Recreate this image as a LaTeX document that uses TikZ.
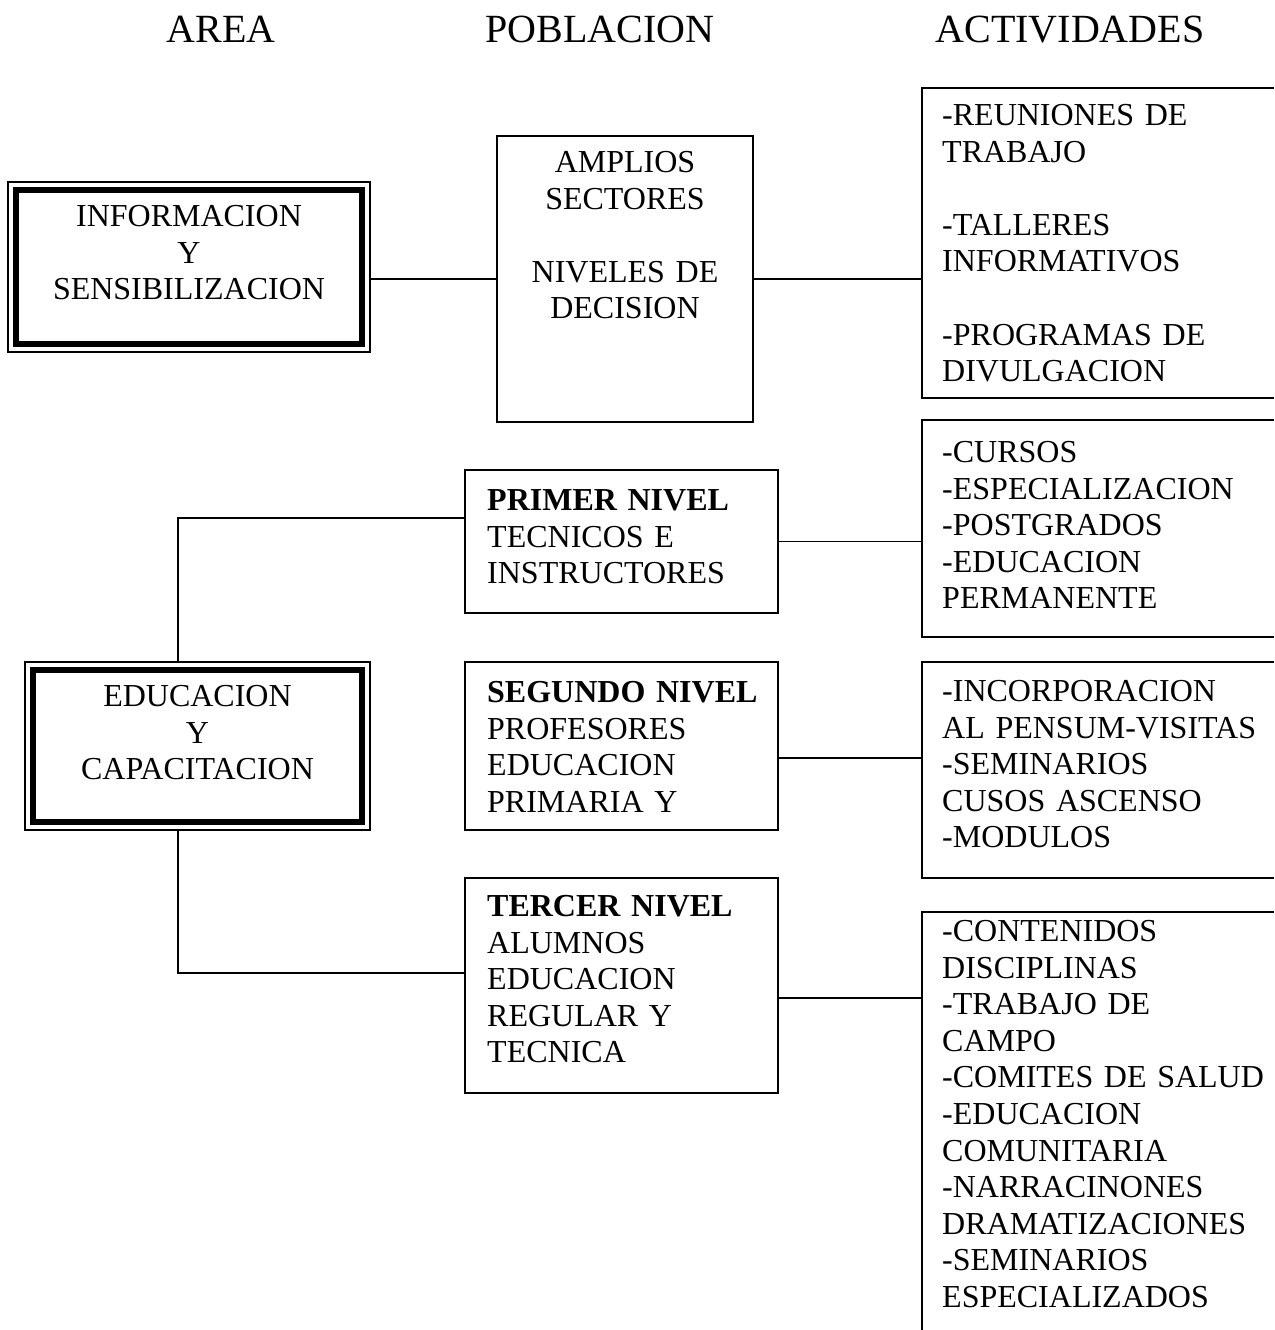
\documentclass[tikz,border=0pt]{standalone}
\usepackage{fontspec}
\setmainfont{Liberation Serif}
\begin{document}
\begin{tikzpicture}[x=1pt,y=-1pt,
  plainbox/.style={draw, line width=1.8pt, inner sep=0pt},
  areabox/.style={draw, line width=1.6pt, inner sep=0pt},
  actframe/.style={draw=none, inner sep=0pt},
  conn/.style={line width=1.6pt},
  head/.style={anchor=base, inner sep=0pt, font=\fontsize{40}{48}\selectfont},
  txtl/.style={anchor=base west, inner sep=0pt, text width=400pt, align=left, font=\fontsize{32}{36.6}\selectfont},
  txtc/.style={anchor=base, inner sep=0pt, text width=400pt, align=center, font=\fontsize{32}{36.6}\selectfont}]
\useasboundingbox (0,0) rectangle (1274,1330);
\fill[white] (0,0) rectangle (1274,1330);

% headers
\node[head] (hArea) at (221,43) {AREA};
\node[head] (hPob) at (600,43) {POBLACION};
\node[head] (hAct) at (1070,43) {ACTIVIDADES};

% area boxes (double border)
\node[areabox, minimum width=362, minimum height=170] (area1) at (189,267) {};
\draw[line width=6pt] ([shift={(9,9)}]area1.north west) rectangle ([shift={(-9,-9)}]area1.south east);
\node[txtc] (t-area1) at (189,226.5) {INFORMACION\\Y\\SENSIBILIZACION};

\node[areabox, minimum width=345, minimum height=168] (area2) at (197.5,746) {};
\draw[line width=6pt] ([shift={(9,9)}]area2.north west) rectangle ([shift={(-9,-9)}]area2.south east);
\node[txtc] (t-area2) at (197.5,706.5) {EDUCACION\\Y\\CAPACITACION};

% poblacion boxes
\node[plainbox, minimum width=256, minimum height=286] (pob1) at (625,279) {};
\node[txtc] (t-pob1) at (625,172.5) {AMPLIOS\\SECTORES\\[36.6pt]NIVELES DE\\DECISION};

\node[plainbox, minimum width=313, minimum height=143] (niv1) at (621.5,541.5) {};
\node[txtl] (t-niv1) at (487,510.5) {\textbf{PRIMER NIVEL}\\TECNICOS E\\INSTRUCTORES};

\node[plainbox, minimum width=313, minimum height=168] (niv2) at (621.5,746) {};
\node[txtl] (t-niv2) at (487,702.5) {\textbf{SEGUNDO NIVEL}\\PROFESORES\\EDUCACION\\PRIMARIA Y};

\node[plainbox, minimum width=313, minimum height=215] (niv3) at (621.5,985.5) {};
\node[txtl] (t-niv3) at (487,916.5) {\textbf{TERCER NIVEL}\\ALUMNOS\\EDUCACION\\REGULAR Y\\TECNICA};

% actividades boxes (cut by the right edge)
\node[actframe, minimum width=352, minimum height=310] (act1) at (1098,243) {};
\draw[line width=1.8pt] (act1.north east) -- (act1.north west) -- (act1.south west) -- (act1.south east);
\node[txtl] (t-act1) at (942,125.5) {-REUNIONES DE\\TRABAJO\\[36.6pt]-TALLERES\\INFORMATIVOS\\[36.6pt]-PROGRAMAS DE\\DIVULGACION};

\node[actframe, minimum width=352, minimum height=217] (act2) at (1098,528.5) {};
\draw[line width=1.8pt] (act2.north east) -- (act2.north west) -- (act2.south west) -- (act2.south east);
\node[txtl] (t-act2) at (942,462.5) {-CURSOS\\-ESPECIALIZACION\\-POSTGRADOS\\-EDUCACION\\PERMANENTE};

\node[actframe, minimum width=352, minimum height=216] (act3) at (1098,770) {};
\draw[line width=1.8pt] (act3.north east) -- (act3.north west) -- (act3.south west) -- (act3.south east);
\node[txtl] (t-act3) at (942,701.5) {-INCORPORACION\\AL PENSUM-VISITAS\\-SEMINARIOS\\CUSOS ASCENSO\\-MODULOS};

\node[actframe, minimum width=352, minimum height=418] (act4) at (1098,1121) {};
\draw[line width=1.8pt] (act4.north east) -- (act4.north west) -- (act4.south west);
\node[txtl] (t-act4) at (942,941.5) {-CONTENIDOS\\DISCIPLINAS\\-TRABAJO DE\\CAMPO\\-COMITES DE SALUD\\-EDUCACION\\COMUNITARIA\\-NARRACINONES\\DRAMATIZACIONES\\-SEMINARIOS\\ESPECIALIZADOS};

% connectors
\draw[conn] (area1.east |- pob1.west) -- (pob1.west);
\draw[conn] (pob1.east) -- (pob1.east -| act1.west);

\coordinate (j1) at (178,518);
\coordinate (j2) at (178,973);
\draw[conn] (j1 |- area2.north) -- (j1) -- (j1 -| niv1.west);
\draw[conn] (j2 |- area2.south) -- (j2) -- (j2 -| niv3.west);

\draw[conn] (niv1.east) -- (niv1.east -| act2.west);
\coordinate (k2) at (800,758);
\draw[conn] (k2 -| niv2.east) -- (k2 -| act3.west);
\coordinate (k3) at (800,998);
\draw[conn] (k3 -| niv3.east) -- (k3 -| act4.west);
\end{tikzpicture}
\end{document}
